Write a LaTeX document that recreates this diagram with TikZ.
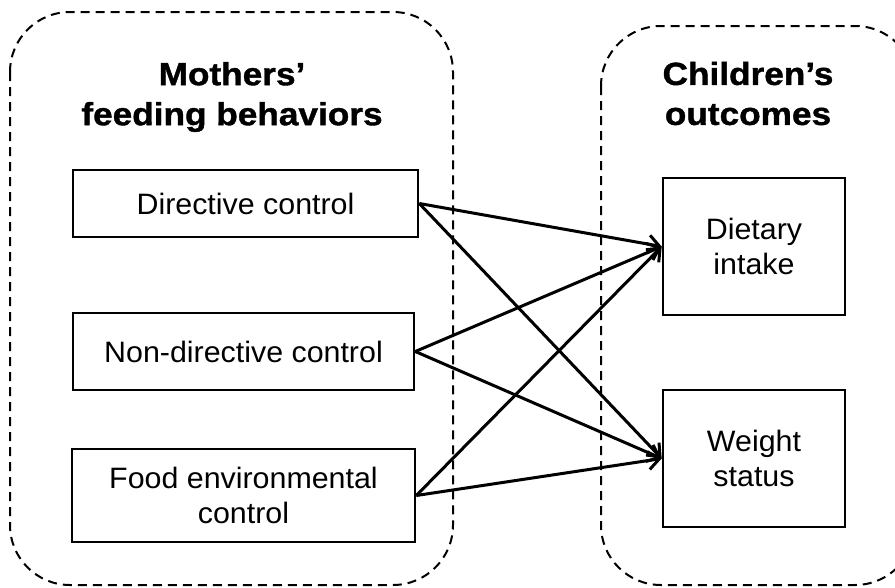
\documentclass[tikz,border=0pt]{standalone}
\usepackage{fontspec}
\setmainfont{Liberation Sans}
\usetikzlibrary{arrows.meta}

\begin{document}
\begin{tikzpicture}[
        x=1pt, y=-1pt,
        >={Straight Barb[length=11pt,width=18pt,line width=3pt]},
        grupo/.style={draw, dash pattern=on 9pt off 6pt, line width=2pt, rounded corners=60pt},
        caixa/.style={draw, line width=2.6pt, inner sep=0pt, align=center, font=\addfontfeature{FakeStretch=1.03}\fontsize{29.5}{35}\selectfont},
        titulo/.style={align=center, font=\bfseries\addfontfeature{FakeStretch=1.1,FakeBold=1.2}\fontsize{32}{40}\selectfont},
        seta/.style={->, line width=3pt}
    ]

        \useasboundingbox (0,0) rectangle (895,587);
        \clip (0,0) rectangle (895,587);

        % ==================================================
        % GRUPOS
        % ==================================================

        \draw[grupo] (10,12) rectangle (453,585);
        \draw[grupo] (601,26) rectangle (915,585);

        \node[titulo] (mothers)  at (232,97)   {Mothers'\\feeding behaviors};
        \node[titulo] (children) at (748,93.5) {Children's\\outcomes};

        % Comportamentos das maes
        \node[caixa, minimum width=345pt, minimum height=67pt] (directive) at (245.5,203.5) {Directive control};
        \node[caixa, minimum width=341pt, minimum height=77pt] (nondirective) at (243.5,351.5) {Non-directive control};
        \node[caixa, minimum width=343pt, minimum height=93pt] (food) at (243.5,495.5) {Food environmental\\control};

        % Resultados das criancas
        \node[caixa, minimum width=182pt, minimum height=137pt] (dietary) at (754,246.5) {Dietary\\intake};
        \node[caixa, minimum width=182pt, minimum height=137pt] (weight) at (754,458.5) {Weight\\status};

        % Setas
        \draw[seta] (directive.east) -- (dietary.west);
        \draw[seta] (directive.east) -- (weight.west);
        \draw[seta] (nondirective.east) -- (dietary.west);
        \draw[seta] (nondirective.east) -- (weight.west);
        \draw[seta] (food.east) -- (dietary.west);
        \draw[seta] (food.east) -- (weight.west);
    \end{tikzpicture}
\end{document}
